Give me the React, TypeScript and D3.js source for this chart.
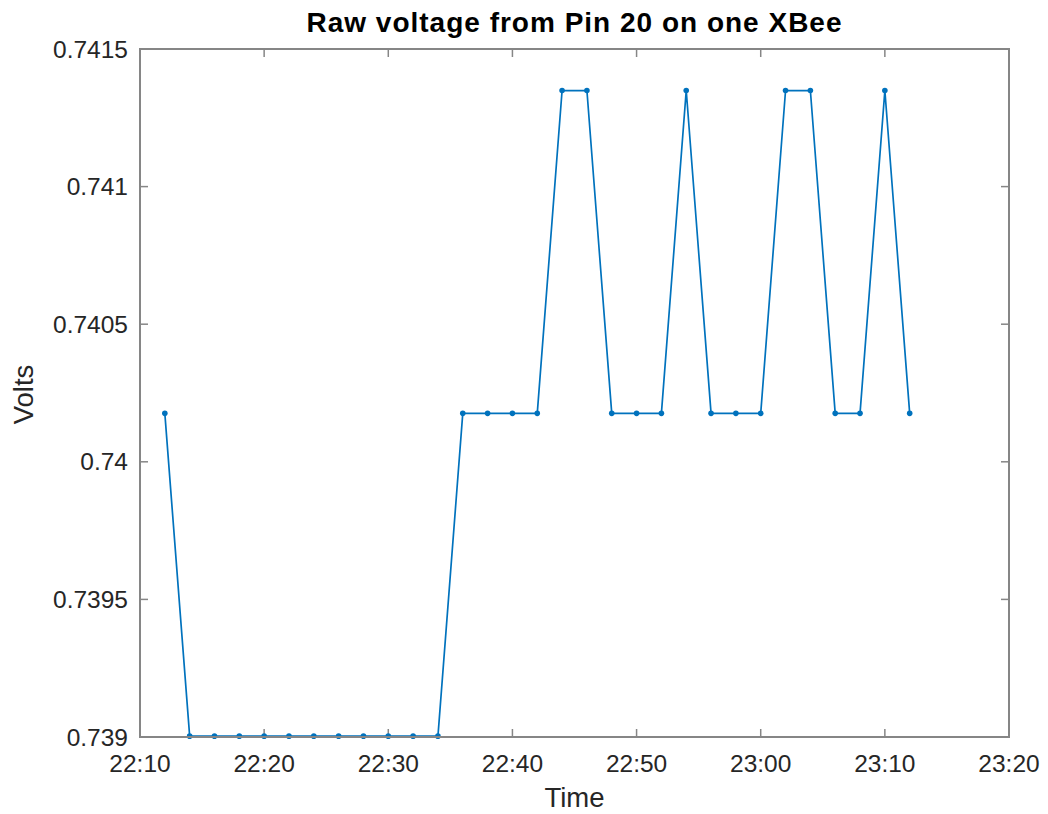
import * as d3 from "d3";
import { useEffect, useRef } from "react";

// sample times (2 min apart) and the raw voltage read at each
const times = [
  "22:12", "22:14", "22:16", "22:18", "22:20", "22:22", "22:24", "22:26",
  "22:28", "22:30", "22:32", "22:34", "22:36", "22:38", "22:40", "22:42",
  "22:44", "22:46", "22:48", "22:50", "22:52", "22:54", "22:56", "22:58",
  "23:00", "23:02", "23:04", "23:06", "23:08", "23:10", "23:12",
];

const volts = [
  0.740176, 0.739003, 0.739003, 0.739003, 0.739003, 0.739003, 0.739003, 0.739003,
  0.739003, 0.739003, 0.739003, 0.739003, 0.740176, 0.740176, 0.740176, 0.740176,
  0.741349, 0.741349, 0.740176, 0.740176, 0.740176, 0.741349, 0.740176, 0.740176,
  0.740176, 0.741349, 0.741349, 0.740176, 0.740176, 0.741349, 0.740176,
];

const xTickLabels = ["22:10", "22:20", "22:30", "22:40", "22:50", "23:00", "23:10", "23:20"];
const yTicks = [0.739, 0.7395, 0.74, 0.7405, 0.741, 0.7415];

const width = 1032;
const height = 806;
const margin = { top: 41, right: 31, bottom: 77, left: 132 };

const parseTime = d3.timeParse("%H:%M");

const App = () => {
  const svgRef = useRef<SVGSVGElement>(null);

  useEffect(() => {
    const svg = d3.select(svgRef.current);
    svg.selectAll("*").remove();

    const data = times.map((t, i) => ({ date: parseTime(t) as Date, v: volts[i] }));

    const xScale = d3
      .scaleTime()
      .domain([parseTime(xTickLabels[0]) as Date, parseTime(xTickLabels[xTickLabels.length - 1]) as Date])
      .range([margin.left, width - margin.right]);

    const yScale = d3
      .scaleLinear()
      .domain([yTicks[0], yTicks[yTicks.length - 1]])
      .range([height - margin.bottom, margin.top]);

    const axisColor = "#868686";
    const textColor = "#262626";
    const font = "'Liberation Sans', Arial, sans-serif";
    const tickLen = 8;

    const x0 = margin.left;
    const x1 = width - margin.right;
    const y0 = height - margin.bottom;
    const y1 = margin.top;

    // ticks (inward, on all four sides)
    const xt = xTickLabels.map((t) => xScale(parseTime(t) as Date));
    const g = svg.append("g").attr("stroke", axisColor).attr("stroke-width", 1.5);
    xt.forEach((x) => {
      g.append("line").attr("x1", x).attr("x2", x).attr("y1", y0).attr("y2", y0 - tickLen);
      g.append("line").attr("x1", x).attr("x2", x).attr("y1", y1).attr("y2", y1 + tickLen);
    });
    yTicks.forEach((v) => {
      const y = yScale(v);
      g.append("line").attr("x1", x0).attr("x2", x0 + tickLen).attr("y1", y).attr("y2", y);
      g.append("line").attr("x1", x1).attr("x2", x1 - tickLen).attr("y1", y).attr("y2", y);
    });

    // line + markers
    const line = d3
      .line<{ date: Date; v: number }>()
      .x((d) => xScale(d.date))
      .y((d) => yScale(d.v));

    svg
      .append("path")
      .datum(data)
      .attr("d", line)
      .attr("fill", "none")
      .attr("stroke", "#0072BD")
      .attr("stroke-width", 1.7);

    svg
      .selectAll(".dot")
      .data(data)
      .enter()
      .append("circle")
      .attr("class", "dot")
      .attr("cx", (d) => xScale(d.date))
      .attr("cy", (d) => yScale(d.v))
      .attr("r", 2.8)
      .attr("fill", "#0072BD");

    // box
    svg
      .append("rect")
      .attr("x", x0)
      .attr("y", y1)
      .attr("width", x1 - x0)
      .attr("height", y0 - y1)
      .attr("fill", "none")
      .attr("stroke", axisColor)
      .attr("stroke-width", 2);

    // tick labels
    svg
      .selectAll(".xLabel")
      .data(xTickLabels)
      .enter()
      .append("text")
      .attr("x", (d) => xScale(parseTime(d) as Date))
      .attr("y", y0 + 35)
      .attr("text-anchor", "middle")
      .attr("fill", textColor)
      .attr("font-size", 24.5)
      .attr("font-family", font)
      .text((d) => d);

    svg
      .selectAll(".yLabel")
      .data(yTicks)
      .enter()
      .append("text")
      .attr("x", x0 - 12)
      .attr("y", (d) => yScale(d) + 8.5)
      .attr("text-anchor", "end")
      .attr("fill", textColor)
      .attr("font-size", 24.5)
      .attr("font-family", font)
      .text((d) => String(d));

    // titles
    svg
      .append("text")
      .attr("x", (x0 + x1) / 2)
      .attr("y", 24)
      .attr("text-anchor", "middle")
      .attr("fill", "#000")
      .attr("font-size", 28)
      .attr("letter-spacing", 1)
      .attr("font-weight", "bold")
      .attr("font-family", font)
      .text("Raw voltage from Pin 20 on one XBee");

    svg
      .append("text")
      .attr("x", (x0 + x1) / 2)
      .attr("y", 799)
      .attr("text-anchor", "middle")
      .attr("fill", textColor)
      .attr("font-size", 27.5)
      .attr("font-family", font)
      .text("Time");

    svg
      .append("text")
      .attr("transform", `translate(${25}, ${386.5}) rotate(-90)`)
      .attr("text-anchor", "middle")
      .attr("fill", textColor)
      .attr("font-size", 27.5)
      .attr("font-family", font)
      .text("Volts");
  }, []);

  return <svg ref={svgRef} width={width} height={height} style={{ display: "block" }}></svg>;
};

export default App;
